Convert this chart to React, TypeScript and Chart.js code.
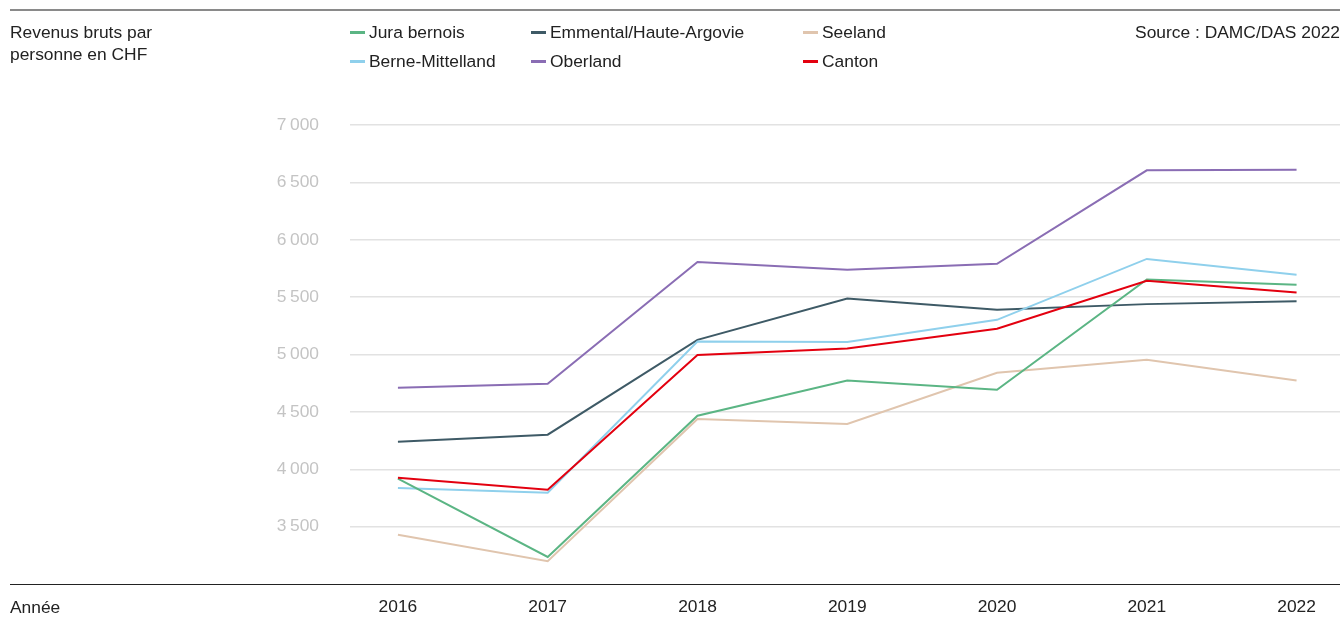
import React, { useEffect, useRef } from 'react';
import { Chart, registerables } from 'chart.js';

Chart.register(...registerables);

const years = [2016, 2017, 2018, 2019, 2020, 2021, 2022];
const juraBernois = [3918, 3236, 4466, 4774, 4693, 5653, 5607];
const berneMittelland = [3837, 3796, 5113, 5108, 5302, 5833, 5694];
const emmental = [4239, 4301, 5128, 5488, 5389, 5439, 5465];
const oberland = [4710, 4745, 5807, 5738, 5790, 6605, 6610];
const seeland = [3430, 3198, 4437, 4394, 4841, 4954, 4774];
const canton = [3926, 3822, 4995, 5052, 5224, 5642, 5540];
const yTicks = [3000, 3500, 4000, 4500, 5000, 5500, 6000, 6500, 7000];

const COLORS = {
  jura: '#5bb584',
  berne: '#8fd0ec',
  emmental: '#3e5a66',
  oberland: '#8a6db4',
  seeland: '#e0c5ae',
  canton: '#e3000f',
};

const legendItems = [
  { label: 'Jura bernois', color: COLORS.jura, left: 350, top: 32 },
  { label: 'Berne-Mittelland', color: COLORS.berne, left: 350, top: 61 },
  { label: 'Emmental/Haute-Argovie', color: COLORS.emmental, left: 531, top: 32 },
  { label: 'Oberland', color: COLORS.oberland, left: 531, top: 61 },
  { label: 'Seeland', color: COLORS.seeland, left: 803, top: 32 },
  { label: 'Canton', color: COLORS.canton, left: 803, top: 61 },
];

const FONT = '"Liberation Sans", Arial, sans-serif';
const FS = 17.4;

const rulesPlugin = {
  id: 'rules',
  afterDraw(chart: any) {
    const ctx = chart.ctx;
    const yScale = chart.scales.y;
    const yb = Math.round(yScale.getPixelForValue(3000)) + 0.5;
    ctx.save();
    ctx.strokeStyle = '#8a8a8a';
    ctx.lineWidth = 2;
    ctx.beginPath();
    ctx.moveTo(10, 10);
    ctx.lineTo(1340, 10);
    ctx.stroke();
    ctx.strokeStyle = '#222222';
    ctx.lineWidth = 1.2;
    ctx.beginPath();
    ctx.moveTo(10, yb);
    ctx.lineTo(1340, yb);
    ctx.stroke();
    ctx.restore();
  },
};

function mk(label: string, values: number[], color: string) {
  return {
    label,
    data: values.map((v, i) => ({ x: years[i], y: v })),
    borderColor: color,
    backgroundColor: color,
    borderWidth: 2,
    pointRadius: 0,
    pointHoverRadius: 0,
    tension: 0,
    fill: false,
  };
}

export default function App() {
  const ref = useRef<HTMLCanvasElement | null>(null);

  useEffect(() => {
    document.body.style.margin = '0';
    const canvas = ref.current;
    if (!canvas) return;
    const chart = new Chart(canvas, {
      type: 'line',
      data: {
        datasets: [
          mk('Canton', canton, COLORS.canton),
          mk('Jura bernois', juraBernois, COLORS.jura),
          mk('Berne-Mittelland', berneMittelland, COLORS.berne),
          mk('Emmental/Haute-Argovie', emmental, COLORS.emmental),
          mk('Oberland', oberland, COLORS.oberland),
          mk('Seeland', seeland, COLORS.seeland),
        ],
      },
      options: {
        animation: false,
        responsive: false,
        maintainAspectRatio: false,
        events: [],
        layout: { padding: { top: 125, right: 2, bottom: 0, left: 0 } },
        plugins: {
          legend: { display: false },
          title: { display: false },
          tooltip: { enabled: false },
        },
        scales: {
          x: {
            type: 'linear',
            min: 2015.68,
            max: 2022.29,
            afterBuildTicks: (scale: any) => {
              scale.ticks = years.map((v) => ({ value: v }));
            },
            afterFit: (scale: any) => {
              scale.height = 35;
              scale.paddingLeft = 0;
              scale.paddingRight = 0;
            },
            grid: { display: false, drawTicks: false },
            border: { display: false },
            ticks: {
              autoSkip: false,
              maxRotation: 0,
              padding: 13,
              color: '#222222',
              font: { family: FONT, size: FS },
              callback: (v: any) => String(v),
            },
          },
          y: {
            type: 'linear',
            min: 3000,
            max: 7000,
            afterBuildTicks: (scale: any) => {
              scale.ticks = yTicks.map((v) => ({ value: v }));
            },
            afterFit: (scale: any) => {
              scale.width = 350;
              scale.paddingTop = 0;
              scale.paddingBottom = 0;
            },
            grid: {
              drawTicks: false,
              lineWidth: 1.5,
              color: (c: any) => (c.tick && c.tick.value === 3000 ? 'rgba(0,0,0,0)' : '#e2e2e2'),
            },
            border: { display: false },
            ticks: {
              padding: 31,
              color: '#c4c4c4',
              font: { family: FONT, size: FS },
              callback: (v: any) => {
                const n = Number(v);
                if (n === 3000) return '';
                const s = String(n);
                return s.slice(0, s.length - 3) + '\u2009' + s.slice(-3);
              },
            },
          },
        },
      },
      plugins: [rulesPlugin],
    } as any);
    return () => chart.destroy();
  }, []);

  const textStyle: React.CSSProperties = {
    position: 'absolute',
    fontFamily: FONT,
    fontSize: FS,
    color: '#222222',
    lineHeight: '22px',
    whiteSpace: 'nowrap',
  };

  return (
    <div style={{ position: 'fixed', left: 0, top: 0, width: 1342, height: 619, background: '#ffffff' }}>
      <canvas ref={ref} width={1342} height={619} style={{ position: 'absolute', left: 0, top: 0, width: 1342, height: 619 }} />
      <div style={{ ...textStyle, left: 10, top: 21 }}>
        Revenus bruts par
        <br />
        personne en CHF
      </div>
      <div style={{ ...textStyle, right: 2, top: 21, textAlign: 'right' }}>Source : DAMC/DAS 2022</div>
      <div style={{ ...textStyle, left: 10, top: 596 }}>Année</div>
      {legendItems.map((it) => (
        <div key={it.label} style={{ ...textStyle, left: it.left, top: it.top - 11, display: 'flex', alignItems: 'center' }}>
          <span style={{ display: 'inline-block', width: 15, height: 3, background: it.color, marginRight: 4 }} />
          <span>{it.label}</span>
        </div>
      ))}
    </div>
  );
}
